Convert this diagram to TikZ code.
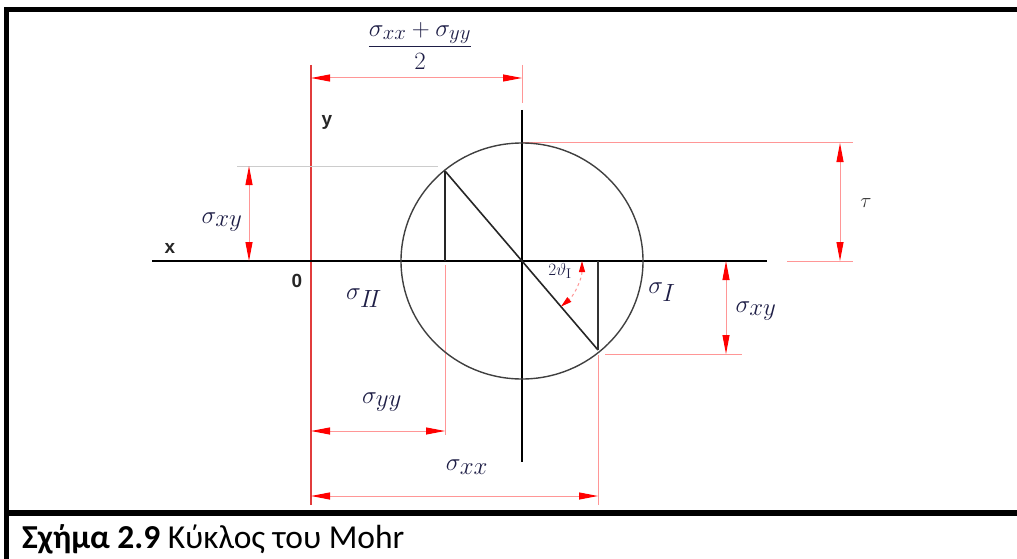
\documentclass[tikz,border=0pt]{standalone}
\usepackage{fontspec}
\setsansfont{Liberation Sans}
\newfontfamily\capfont{Carlito}
\DeclareMathSizes{30}{30}{24}{19}
\DeclareMathSizes{28}{28}{22}{17}
\DeclareMathSizes{34}{34}{26}{20}
\DeclareMathSizes{18}{18}{14}{11}
\usetikzlibrary{arrows.meta}
\definecolor{lblc}{RGB}{30,30,70}
\definecolor{extred}{RGB}{255,150,150}
\definecolor{axred}{RGB}{225,60,60}
\begin{document}
\begin{tikzpicture}[x=1pt,y=-1pt,
  tipR/.tip={Triangle[length=19pt,width=7pt,color=red]},
  tipS/.tip={Triangle[length=11pt,width=6pt,color=red]},
  dimline/.style={extred,line width=1pt,tipR-tipR},
  extline/.style={extred,line width=1pt},
  blk/.style={black,line width=1.8pt},
  lbl/.style={inner sep=0pt,text=lblc,font=\fontsize{30}{34}\selectfont},
  axlbl/.style={inner sep=0pt,text=black!85,font=\sffamily\bfseries\fontsize{19}{22}\selectfont}]
\useasboundingbox (0,0) rectangle (1017,559);
% frame
\draw[line width=5pt] (4,10) -- (1017,10);
\draw[line width=5pt] (6.5,7.5) -- (6.5,559);
\draw[line width=6pt] (4,512.5) -- (1017,512.5);
% key coordinates
\coordinate (O) at (311,261);
\coordinate (C) at (522,261);
\coordinate (P1) at (445,171);
\coordinate (P2) at (598,350);
\coordinate (P1a) at (445,261);
\coordinate (P2a) at (598,261);
\coordinate (Xl) at (152,261);
\coordinate (Xr) at (767,261);
\coordinate (Ct) at (522,110);
\coordinate (Cb) at (522,462);
\coordinate (Yt) at (311,65);
\coordinate (Yb) at (311,505);
\coordinate (Top) at (522,143);
% red y axis
\draw[axred,line width=1.8pt] (Yt) -- (Yb);
% extension lines
\draw[extline] (522,65) -- (522,103);
\draw[extline] (Top) -- (853,143);
\draw[extline] (787,261) -- (853,261);
\draw[extline] (605,354) -- (742,354);
\draw[extline] (445,265) -- (445,435);
\draw[extline] (598,355) -- (598,505);
\draw[black!20,line width=1pt] (237,166) -- (438,166);
% axes and circle
\draw[blk] (Xl) -- (Xr);
\draw[blk] (Ct) -- (Cb);
\draw[black!75,line width=1.4pt] (C) ellipse [x radius=121, y radius=118];
\draw[black!85,line width=1.6pt] (P1) -- (C) -- (P2);
\draw[black!85,line width=1.6pt] (P1) -- (P1a);
\draw[black!80,line width=1.6pt] (P2a) -- (P2);
% dimension lines
\coordinate (D1a) at (311,78); \coordinate (D1b) at (522,78);
\draw[dimline] (D1a) -- (D1b);
\coordinate (D2a) at (249,166); \coordinate (D2b) at (249,261);
\draw[dimline] (D2a) -- (D2b);
\coordinate (D3a) at (840,143); \coordinate (D3b) at (840,261);
\draw[dimline] (D3a) -- (D3b);
\coordinate (D4a) at (726,261); \coordinate (D4b) at (726,354);
\draw[dimline] (D4a) -- (D4b);
\coordinate (D5a) at (311,431); \coordinate (D5b) at (445,431);
\draw[dimline] (D5a) -- (D5b);
\coordinate (D6a) at (311,496); \coordinate (D6b) at (598,496);
\draw[dimline] (D6a) -- (D6b);
% angle arc
\draw[extred,line width=1pt,dashed,tipS-tipS] ([xshift=60pt]C) arc[start angle=0,end angle=49.5,radius=60];
% labels
\node[lbl,font=\fontsize{28}{32}\selectfont] (lfrac) at (420,46) {$\displaystyle\frac{\sigma_{xx}+\sigma_{yy}}{2}$};
\node[axlbl] (ly) at (327,122) {y};
\node[axlbl] (lx) at (170,248) {x};
\node[axlbl] (l0) at (297,281) {0};
\node[lbl] (lsxy1) at (222,222) {$\sigma_{xy}$};
\node[lbl] (lsII) at (364,298) {$\sigma_{I\!I}$};
\node[inner sep=0pt,text=lblc,font=\fontsize{18}{20}\selectfont] (lth) at (560,271) {$2\vartheta_{\mathrm{I}}$};
\node[lbl,font=\fontsize{34}{38}\selectfont] (lsI) at (662,292) {$\sigma_{I}$};
\node[lbl] (lsxy2) at (756,311) {$\sigma_{xy}$};
\node[inner sep=0pt,text=black!80,font=\fontsize{22}{24}\selectfont] (ltau) at (866,203) {$\tau$};
\node[lbl] (lsyy) at (382,402) {$\sigma_{yy}$};
\node[lbl] (lsxx) at (467,467) {$\sigma_{xx}$};
\node[anchor=base west,inner sep=0pt,font=\capfont\fontsize{33.5}{36}\selectfont] (cap) at (22,548) {\textbf{Σχήμα 2.9} Κύκλος του Mohr};
\end{tikzpicture}
\end{document}
